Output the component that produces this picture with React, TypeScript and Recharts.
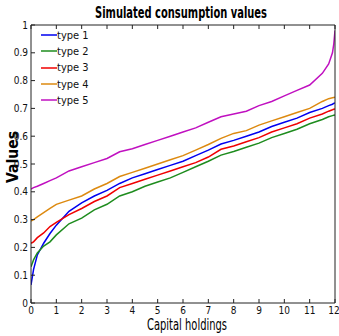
import React from 'react'
import { LineChart, Line, XAxis, YAxis, Legend, Customized } from 'recharts'

const FONT = "'Liberation Sans Narrow', 'DejaVu Sans Condensed', 'Arial Narrow', sans-serif"

// capital holdings sampled along the x axis
const capital = [0, 0.1, 0.25, 0.5, 0.75, 1, 1.5, 2, 2.5, 3, 3.5, 4, 4.5, 5, 5.5, 6, 6.5, 7, 7.5, 8, 8.5, 9, 9.5, 10, 10.5, 11, 11.5, 11.75, 11.9, 11.95, 12]

const type1 = [0.065, 0.12, 0.173, 0.215, 0.25, 0.28, 0.33, 0.36, 0.385, 0.405, 0.43, 0.45, 0.465, 0.48, 0.495, 0.51, 0.53, 0.55, 0.572, 0.585, 0.6, 0.615, 0.635, 0.65, 0.665, 0.685, 0.7, 0.71, 0.715, 0.718, 0.72]
const type2 = [0.13, 0.155, 0.18, 0.205, 0.22, 0.245, 0.285, 0.305, 0.335, 0.355, 0.385, 0.4, 0.42, 0.435, 0.45, 0.47, 0.49, 0.51, 0.532, 0.545, 0.56, 0.575, 0.595, 0.61, 0.625, 0.645, 0.66, 0.67, 0.674, 0.675, 0.676]
const type3 = [0.215, 0.22, 0.235, 0.252, 0.275, 0.29, 0.318, 0.34, 0.365, 0.385, 0.415, 0.43, 0.445, 0.46, 0.475, 0.49, 0.505, 0.525, 0.553, 0.565, 0.58, 0.595, 0.615, 0.63, 0.645, 0.665, 0.68, 0.69, 0.695, 0.697, 0.698]
const type4 = [0.295, 0.3, 0.31, 0.325, 0.34, 0.355, 0.37, 0.385, 0.41, 0.43, 0.455, 0.47, 0.485, 0.5, 0.515, 0.53, 0.55, 0.57, 0.592, 0.61, 0.62, 0.64, 0.655, 0.67, 0.685, 0.7, 0.725, 0.735, 0.738, 0.739, 0.74]
const type5 = [0.41, 0.415, 0.42, 0.43, 0.44, 0.45, 0.475, 0.49, 0.505, 0.52, 0.544, 0.555, 0.57, 0.585, 0.6, 0.615, 0.63, 0.65, 0.67, 0.68, 0.69, 0.71, 0.725, 0.745, 0.765, 0.784, 0.826, 0.86, 0.9, 0.93, 0.98]

const xTicks = [0, 1, 2, 3, 4, 5, 6, 7, 8, 9, 10, 11, 12]
const yTicks = [0, 0.1, 0.2, 0.3, 0.4, 0.5, 0.6, 0.7, 0.8, 0.9, 1]

const SERIES = [
  { key: 'type1', name: 'type 1', color: '#0000f0' },
  { key: 'type2', name: 'type 2', color: '#1e8c1e' },
  { key: 'type3', name: 'type 3', color: '#f00000' },
  { key: 'type4', name: 'type 4', color: '#dd8a10' },
  { key: 'type5', name: 'type 5', color: '#c010c0' },
]

const data = capital.map((x, i) => ({
  x,
  type1: type1[i],
  type2: type2[i],
  type3: type3[i],
  type4: type4[i],
  type5: type5[i],
}))

function LegendBox() {
  return (
    <div style={{ fontFamily: FONT, fontSize: 11, color: '#111', lineHeight: 1 }}>
      {SERIES.map((s) => (
        <div key={s.key} style={{ display: 'flex', alignItems: 'center', height: 16.3 }}>
          <svg width={16} height={4} style={{ display: 'block' }}>
            <line x1={0} y1={2} x2={16} y2={2} stroke={s.color} strokeWidth={1.5} />
          </svg>
          <span>{s.name}</span>
        </div>
      ))}
    </div>
  )
}

function Titles() {
  return (
    <g fontFamily={FONT} fill="#000">
      <text x={181} y={18} textAnchor="middle" fontSize={15} fontWeight="bold" textLength={172} lengthAdjust="spacingAndGlyphs">
        Simulated consumption values
      </text>
      <text x={187} y={330} textAnchor="middle" fontSize={15} textLength={80} lengthAdjust="spacingAndGlyphs">
        Capital holdings
      </text>
      <text x={18} y={157} textAnchor="middle" fontSize={16} fontWeight="bold" textLength={52} lengthAdjust="spacingAndGlyphs" transform="rotate(-90, 18, 157)">
        Values
      </text>
    </g>
  )
}

const tickStyle = { fontFamily: FONT, fontSize: 10, fill: '#111' }
const frame = { stroke: '#222' }
const noLabel = () => <g />

export default function App() {
  return (
    <div style={{ position: 'absolute', left: 0, top: 0, width: 339, height: 336, background: '#fff' }}>
      <LineChart width={339} height={336} data={data} margin={{ top: 24, right: 3, bottom: 0, left: 0 }}>
        <XAxis
          xAxisId="b"
          dataKey="x"
          type="number"
          domain={[0, 12]}
          ticks={xTicks}
          allowDataOverflow
          height={33}
          tickSize={-4}
          tickMargin={8}
          axisLine={frame}
          tickLine={frame}
          tick={tickStyle}
        />
        <XAxis
          xAxisId="t"
          orientation="top"
          dataKey="x"
          type="number"
          domain={[0, 12]}
          ticks={xTicks}
          height={1}
          tickSize={-4}
          tickMargin={0}
          tick={noLabel}
          axisLine={frame}
          tickLine={frame}
        />
        <YAxis
          yAxisId="l"
          type="number"
          domain={[0, 1]}
          ticks={yTicks}
          allowDataOverflow
          width={31}
          tickSize={-4}
          tickMargin={7}
          axisLine={frame}
          tickLine={frame}
          tick={tickStyle}
        />
        <YAxis
          yAxisId="r"
          orientation="right"
          type="number"
          domain={[0, 1]}
          ticks={yTicks}
          width={1}
          tickSize={-4}
          tickMargin={0}
          tick={noLabel}
          axisLine={frame}
          tickLine={frame}
        />
        {SERIES.map((s) => (
          <Line
            key={s.key}
            xAxisId="b"
            yAxisId="l"
            dataKey={s.key}
            name={s.name}
            type="linear"
            stroke={s.color}
            strokeWidth={1.5}
            dot={false}
            isAnimationActive={false}
          />
        ))}
        <Legend
          layout="vertical"
          align="center"
          verticalAlign="middle"
          content={<LegendBox />}
          wrapperStyle={{ left: 41, top: 27, width: 60, height: 84 }}
        />
        <Customized component={Titles} />
      </LineChart>
    </div>
  )
}
